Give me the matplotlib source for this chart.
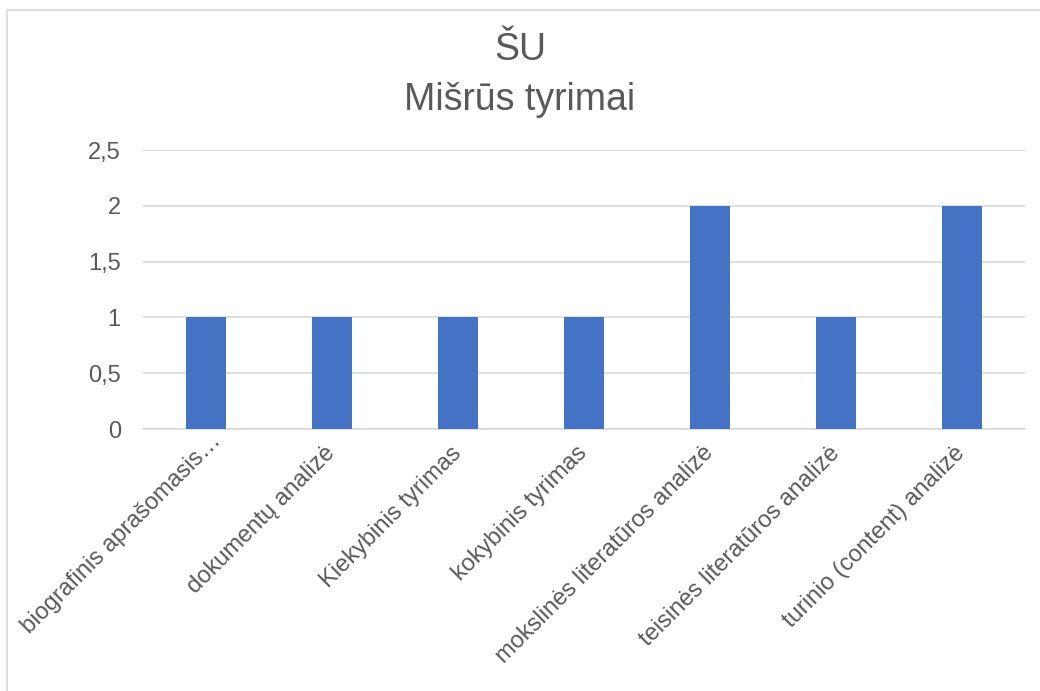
import matplotlib.pyplot as plt
import matplotlib.patches as mpatches
from matplotlib.transforms import ScaledTranslation

plt.rcParams['font.family'] = ['Liberation Sans', 'DejaVu Sans']

# duomenys
categories = ['biografinis aprašomasis…', 'dokumentų analizė', 'Kiekybinis tyrimas',
              'kokybinis tyrimas', 'mokslinės literatūros analizė',
              'teisinės literatūros analizė', 'turinio (content) analizė']
values = [1, 1, 1, 1, 2, 1, 2]
yticks = [0, 0.5, 1, 1.5, 2, 2.5]
ytick_labels = ['0', '0,5', '1', '1,5', '2', '2,5']

text_color = '#595959'
grid_color = '#d9d9d9'

fig = plt.figure(figsize=(10.4, 6.91), dpi=100)
# chart border like Excel
fig.patches.append(mpatches.Rectangle((7 / 1040, -0.01), 1.1, 1 - 10 / 691 + 0.01,
                                      transform=fig.transFigure, fill=False,
                                      edgecolor=grid_color, linewidth=1.2))

ax = fig.add_axes([143 / 1040, 1 - 429 / 691, 882 / 1040, 279 / 691])
x = range(len(categories))
ax.bar(x, values, width=0.31, color='#4472C4', zorder=3)

ax.set_xlim(-0.5, len(categories) - 0.5)
ax.set_ylim(0, 2.5)
ax.set_yticks(yticks)
ax.set_yticklabels(ytick_labels, fontsize=17, color=text_color)
ax.yaxis.grid(True, color=grid_color, linewidth=1.2, zorder=0)
ax.tick_params(axis='y', length=0, pad=16)
ax.tick_params(axis='x', length=0, pad=15)

ax.set_xticks(list(x))
ax.set_xticklabels(categories, rotation=45, ha='right', va='center',
                   rotation_mode='anchor', fontsize=17, color=text_color)
# sutrumpintas pirmas label'is Excel'yje stovi kiek aukščiau
lbl0 = ax.get_xticklabels()[0]
lbl0.set_transform(lbl0.get_transform() + ScaledTranslation(0.12, 0.12, fig.dpi_scale_trans))

for side in ['top', 'right', 'left']:
    ax.spines[side].set_visible(False)
ax.spines['bottom'].set_color(grid_color)
ax.spines['bottom'].set_linewidth(1.2)

fig.text(0.5, 1 - 50 / 691, 'ŠU', ha='center', va='center', fontsize=27, color=text_color)
fig.text(0.5, 1 - 100 / 691, 'Mišrūs tyrimai', ha='center', va='center', fontsize=27, color=text_color)

fig.savefig('out.png', dpi=100)
